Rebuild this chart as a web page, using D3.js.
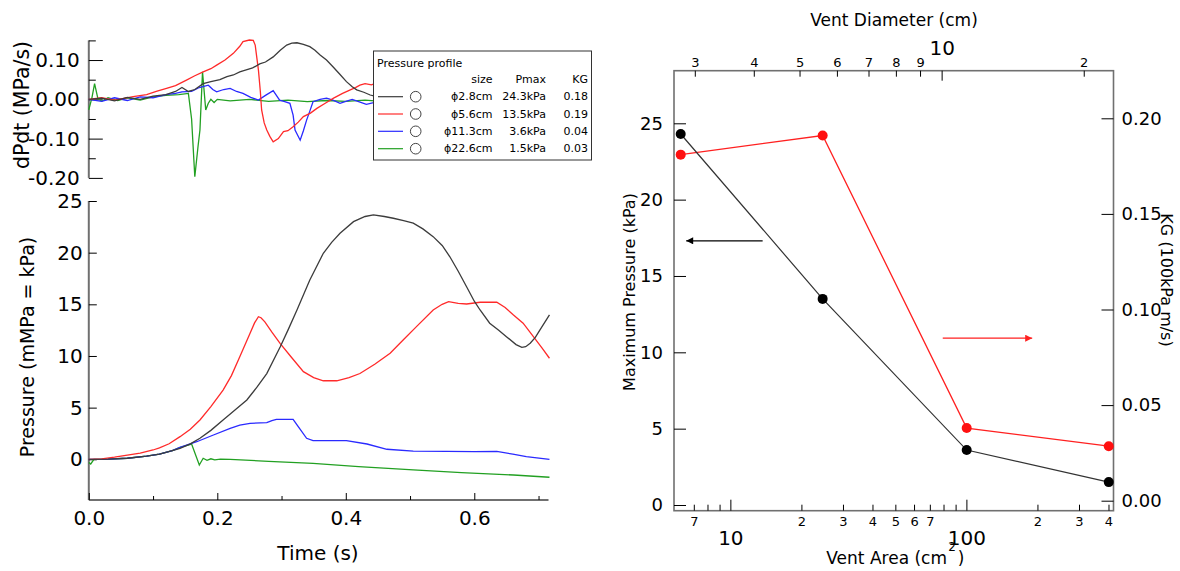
<!DOCTYPE html>
<html><head><meta charset="utf-8">
<script src="https://cdn.jsdelivr.net/npm/d3@7"></script>
<style>
body{margin:0;background:#fff;}
svg{display:block;font-family:"DejaVu Sans",sans-serif;}
</style></head><body>
<svg id="c" width="1180" height="571"></svg>
<script>
// ---------------- DATA ----------------
const timeTicks = [0, 0.2, 0.4, 0.6];
const timeMinorTicks = [0.1, 0.3, 0.5, 0.7];
const pressureTicks = [0, 5, 10, 15, 20, 25];
const dpdtTicks = [0.10, 0.00, -0.10, -0.20];
const dpdtMinorTicks = [0.15, 0.05, -0.05, -0.15];

const seriesSize = ["ϕ2.8cm", "ϕ5.6cm", "ϕ11.3cm", "ϕ22.6cm"];
const seriesPmaxText = ["24.3kPa", "13.5kPa", "3.6kPa", "1.5kPa"];
const seriesKGText = ["0.18", "0.19", "0.04", "0.03"];
const seriesColors = ["#3c3c3c", "#ff2a2a", "#2a2aff", "#22a022"];

// pressure (kPa) vs time (s)
const pressure28 = [[0,0],[0.03,0.02],[0.06,0.1],[0.09,0.3],[0.11,0.5],[0.13,0.85],[0.142,1.06],[0.158,1.5],[0.173,2.03],[0.19,2.8],[0.209,3.8],[0.228,4.8],[0.246,5.74],[0.262,7.0],[0.277,8.3],[0.298,10.9],[0.31,12.5],[0.324,14.45],[0.344,17.36],[0.365,19.94],[0.378,21.0],[0.391,21.88],[0.412,23.0],[0.43,23.5],[0.443,23.65],[0.46,23.5],[0.474,23.33],[0.49,23.1],[0.505,22.85],[0.52,22.3],[0.536,21.55],[0.55,20.7],[0.562,19.6],[0.575,18.2],[0.588,16.7],[0.6,15.3],[0.609,14.45],[0.624,13.17],[0.638,12.5],[0.65,11.87],[0.665,11.1],[0.674,10.84],[0.68,10.9],[0.687,11.23],[0.695,11.8],[0.702,12.5],[0.717,13.97]];
const pressure56 = [[0,0],[0.02,0.05],[0.04,0.2],[0.06,0.4],[0.08,0.6],[0.1,0.9],[0.11,1.1],[0.125,1.5],[0.142,2.19],[0.158,2.9],[0.173,3.8],[0.19,5.1],[0.209,6.7],[0.222,8.1],[0.235,9.93],[0.251,12.2],[0.258,13.2],[0.264,13.8],[0.268,13.7],[0.274,13.3],[0.285,12.3],[0.298,11.2],[0.315,9.9],[0.334,8.48],[0.35,7.9],[0.365,7.6],[0.386,7.6],[0.405,7.9],[0.422,8.3],[0.445,9.2],[0.469,10.26],[0.49,11.6],[0.51,12.84],[0.536,14.45],[0.55,15.0],[0.56,15.26],[0.575,15.1],[0.588,15.03],[0.609,15.2],[0.635,15.2],[0.648,14.7],[0.661,13.97],[0.676,13.17],[0.692,11.87],[0.705,10.8],[0.717,9.78]];
const pressure113 = [[0,0],[0.03,0.02],[0.06,0.1],[0.09,0.3],[0.11,0.5],[0.13,0.85],[0.142,1.16],[0.168,1.7],[0.194,2.35],[0.22,3.0],[0.235,3.3],[0.251,3.48],[0.277,3.55],[0.285,3.75],[0.292,3.87],[0.318,3.87],[0.326,3.16],[0.339,2.03],[0.349,1.8],[0.401,1.8],[0.433,1.48],[0.464,0.97],[0.505,0.80],[0.557,0.77],[0.6,0.75],[0.635,0.77],[0.66,0.5],[0.681,0.25],[0.717,0.0]];
const pressure226 = [[0,-0.3],[0.003,-0.45],[0.008,0],[0.03,0.02],[0.06,0.1],[0.09,0.3],[0.11,0.5],[0.13,0.85],[0.142,1.16],[0.16,1.48],[0.172,-0.55],[0.178,0.1],[0.184,-0.1],[0.19,0.05],[0.196,-0.05],[0.205,0.02],[0.22,0.0],[0.28,-0.2],[0.349,-0.39],[0.42,-0.7],[0.505,-1.03],[0.58,-1.3],[0.661,-1.52],[0.717,-1.74]];

// dP/dt (MPa/s) vs time (s)
const dpdt28 = [[0,0],[0.02,0.003],[0.04,-0.004],[0.06,0.005],[0.08,0.0],[0.1,0.008],[0.12,0.012],[0.135,0.02],[0.145,0.03],[0.155,0.02],[0.165,0.025],[0.178,0.04],[0.19,0.045],[0.204,0.05],[0.215,0.058],[0.225,0.062],[0.235,0.07],[0.245,0.075],[0.255,0.08],[0.266,0.09],[0.275,0.095],[0.287,0.108],[0.298,0.125],[0.308,0.138],[0.316,0.143],[0.324,0.144],[0.334,0.14],[0.344,0.134],[0.352,0.125],[0.36,0.113],[0.37,0.1],[0.38,0.083],[0.39,0.065],[0.401,0.045],[0.41,0.032],[0.417,0.024],[0.428,0.018],[0.438,0.011],[0.445,0.008]];
const dpdt56 = [[0,0],[0.02,0.004],[0.04,-0.002],[0.069,0.007],[0.09,0.012],[0.105,0.02],[0.121,0.028],[0.135,0.035],[0.152,0.049],[0.165,0.06],[0.178,0.07],[0.19,0.078],[0.199,0.087],[0.212,0.1],[0.225,0.117],[0.235,0.135],[0.24,0.147],[0.25,0.151],[0.256,0.15],[0.259,0.138],[0.262,0.1],[0.264,0.075],[0.267,0.02],[0.269,-0.027],[0.273,-0.06],[0.277,-0.078],[0.282,-0.095],[0.287,-0.108],[0.295,-0.1],[0.303,-0.082],[0.31,-0.08],[0.318,-0.07],[0.326,-0.058],[0.334,-0.044],[0.345,-0.035],[0.355,-0.023],[0.368,-0.01],[0.381,0.003],[0.395,0.015],[0.407,0.024],[0.415,0.03],[0.422,0.036],[0.43,0.04],[0.44,0.037],[0.445,0.04]];
const dpdt113 = [[0,0],[0.02,-0.005],[0.04,0.004],[0.06,-0.003],[0.08,0.006],[0.1,0.004],[0.12,0.012],[0.135,0.015],[0.145,0.019],[0.16,0.02],[0.172,0.03],[0.186,0.036],[0.193,0.025],[0.199,0.019],[0.21,0.025],[0.22,0.028],[0.23,0.02],[0.24,0.015],[0.252,0.005],[0.264,-0.002],[0.275,0.01],[0.287,0.022],[0.297,-0.002],[0.305,-0.006],[0.313,-0.01],[0.318,-0.04],[0.321,-0.078],[0.329,-0.104],[0.334,-0.08],[0.339,-0.053],[0.344,-0.03],[0.349,-0.006],[0.36,0.0],[0.37,0.003],[0.38,-0.002],[0.391,-0.01],[0.4,-0.005],[0.41,0.0],[0.42,-0.006],[0.432,-0.013],[0.445,-0.008]];
const dpdt226 = [[0,-0.027],[0.005,0.005],[0.009,0.04],[0.014,0.003],[0.02,-0.005],[0.03,0.004],[0.045,-0.003],[0.06,0.004],[0.08,-0.002],[0.1,0.006],[0.12,0.01],[0.14,0.012],[0.155,0.015],[0.16,-0.05],[0.165,-0.197],[0.17,-0.12],[0.173,-0.078],[0.177,0.07],[0.182,-0.027],[0.186,-0.01],[0.19,0.0],[0.195,-0.008],[0.2,0.0],[0.22,-0.004],[0.25,0.0],[0.28,-0.005],[0.31,-0.002],[0.34,-0.006],[0.37,-0.003],[0.4,-0.005],[0.43,-0.002],[0.445,-0.004]];

// right chart
const ventArea = [6.16, 24.6, 100.3, 401];       // cm^2
const maxPressure = [24.3, 13.5, 3.6, 1.5];       // kPa
const kgValues = [0.181, 0.191, 0.038, 0.0285];   // 100kPa m/s
const areaMajorTicks = [10, 100];
const areaMinorTicks = [7, 8, 9, 20, 30, 40, 50, 60, 70, 80, 90, 200, 300, 400];
const areaMinorLabels = [7, 20, 30, 40, 50, 60, 70, 200, 300, 400];
const diamMajorTicks = [10];
const diamMinorTicks = [3, 4, 5, 6, 7, 8, 9, 20];
const maxPressureTicks = [0, 5, 10, 15, 20, 25];
const kgTicks = [0.00, 0.05, 0.10, 0.15, 0.20];
const arrowPmax = {y: 17.3, from: 13.7, to: 6.5};
const arrowKG = {y: 0.085, from: 79.4, to: 190};

// ---------------- DRAW ----------------
const svg = d3.select("#c");
const FONT = '"DejaVu Sans", sans-serif';
const AXIS_GRAY = "#707070";
const defs = svg.append("defs");
defs.append("marker").attr("id","ahK").attr("viewBox","0 0 10 10").attr("refX",10).attr("refY",5)
  .attr("markerWidth",10).attr("markerHeight",7).attr("markerUnits","userSpaceOnUse").attr("orient","auto")
  .append("path").attr("d","M0,0L10,5L0,10Z").attr("fill","#000");
defs.append("marker").attr("id","ahR").attr("viewBox","0 0 10 10").attr("refX",10).attr("refY",5)
  .attr("markerWidth",10).attr("markerHeight",7).attr("markerUnits","userSpaceOnUse").attr("orient","auto")
  .append("path").attr("d","M0,0L10,5L0,10Z").attr("fill","#ff2020");

function styleAxis(g, size){
  g.attr("font-family", FONT);
  g.select(".domain").remove();
  g.selectAll(".tick line").attr("stroke","#000").attr("stroke-width",1);
  g.selectAll(".tick text").attr("font-size", size).attr("fill","#000");
}

// ---- left charts ----
const xT = d3.scaleLinear().domain([0, 0.7155]).range([88.8, 548.5]);
const yP = d3.scaleLinear().domain([-3.94, 25]).range([500, 201]);
const yD = d3.scaleLinear().domain([-0.20, 0.15]).range([177.9, 40.4]);

// frames
svg.append("line").attr("x1",xT.range()[0]).attr("x2",xT.range()[1]).attr("y1",yP.range()[0]).attr("y2",yP.range()[0])
  .attr("stroke",AXIS_GRAY).attr("stroke-width",2);
svg.append("line").attr("x1",xT.range()[0]).attr("x2",xT.range()[0]).attr("y1",yP.range()[0]).attr("y2",yP.range()[1])
  .attr("stroke",AXIS_GRAY).attr("stroke-width",2);
svg.append("line").attr("x1",xT.range()[0]).attr("x2",xT.range()[0]).attr("y1",yD.range()[0]).attr("y2",yD.range()[1])
  .attr("stroke",AXIS_GRAY).attr("stroke-width",2);

// time axis
svg.append("g").attr("transform",`translate(0,${yP.range()[0]})`)
  .call(d3.axisBottom(xT).tickValues(timeMinorTicks).tickSizeInner(-4).tickSizeOuter(0).tickFormat(""))
  .call(g=>styleAxis(g,20));
svg.append("g").attr("transform",`translate(0,${yP.range()[0]})`)
  .call(d3.axisBottom(xT).tickValues(timeTicks).tickSizeInner(-7).tickSizeOuter(0).tickPadding(11).tickFormat(d3.format(".1f")))
  .call(g=>styleAxis(g,20));
// pressure axis
svg.append("g").attr("transform",`translate(${xT.range()[0]},0)`)
  .call(d3.axisLeft(yP).tickValues(pressureTicks).tickSizeInner(-8).tickSizeOuter(0).tickPadding(6).tickFormat(d3.format("d")))
  .call(g=>styleAxis(g,20));
// dpdt axis
svg.append("g").attr("transform",`translate(${xT.range()[0]},0)`)
  .call(d3.axisLeft(yD).tickValues(dpdtMinorTicks).tickSizeInner(-7).tickSizeOuter(0).tickFormat(""))
  .call(g=>styleAxis(g,20));
svg.append("g").attr("transform",`translate(${xT.range()[0]},0)`)
  .call(d3.axisLeft(yD).tickValues(dpdtTicks).tickSizeInner(-14).tickSizeOuter(0).tickPadding(9).tickFormat(d=>d3.format(".2f")(d).replace("−","-")))
  .call(g=>styleAxis(g,20));

// curves
const lineP = d3.line().x(d=>xT(d[0])).y(d=>yP(d[1]));
const lineD = d3.line().x(d=>xT(d[0])).y(d=>yD(d[1]));
const pSeries = [pressure28, pressure56, pressure113, pressure226];
const dSeries = [dpdt28, dpdt56, dpdt113, dpdt226];
const drawOrder = [3,2,1,0];
drawOrder.forEach(i=>{
  svg.append("path").attr("d",lineP(pSeries[i])).attr("fill","none").attr("stroke",seriesColors[i]).attr("stroke-width",1.3);
});
drawOrder.forEach(i=>{
  svg.append("path").attr("d",lineD(dSeries[i])).attr("fill","none").attr("stroke",seriesColors[i]).attr("stroke-width",1.3);
});

// axis titles
svg.append("text").attr("x",318).attr("y",553).attr("text-anchor","middle").attr("dominant-baseline","central")
  .attr("font-size",20).attr("font-family",FONT).text("Time (s)");
svg.append("text").attr("transform","translate(27,347) rotate(-90)").attr("text-anchor","middle").attr("dominant-baseline","central")
  .attr("font-size",19).attr("font-family",FONT).text("Pressure (mMPa = kPa)");
svg.append("text").attr("transform","translate(22,105) rotate(-90)").attr("text-anchor","middle").attr("dominant-baseline","central")
  .attr("font-size",20.5).attr("font-family",FONT).text("dPdt (MPa/s)");

// legend
const lg = svg.append("g").attr("font-family",FONT).attr("font-size",11);
lg.append("rect").attr("x",373.5).attr("y",51).attr("width",218).attr("height",109).attr("fill","#fff").attr("stroke","#333").attr("stroke-width",1);
lg.append("text").attr("x",377).attr("y",63).attr("dominant-baseline","central").text("Pressure profile");
lg.append("text").attr("x",492.5).attr("y",79.5).attr("text-anchor","end").attr("dominant-baseline","central").text("size");
lg.append("text").attr("x",546).attr("y",79.5).attr("text-anchor","end").attr("dominant-baseline","central").text("Pmax");
lg.append("text").attr("x",588).attr("y",79.5).attr("text-anchor","end").attr("dominant-baseline","central").text("KG");
const rowY = [96.7, 114, 131.3, 148.7];
seriesSize.forEach((s,i)=>{
  const y = rowY[i];
  lg.append("line").attr("x1",378).attr("x2",403).attr("y1",y).attr("y2",y).attr("stroke",seriesColors[i]).attr("stroke-width",1.2);
  lg.append("circle").attr("cx",415.7).attr("cy",y).attr("r",5.3).attr("fill","#fff").attr("stroke","#444").attr("stroke-width",1);
  lg.append("text").attr("x",492.5).attr("y",y).attr("text-anchor","end").attr("dominant-baseline","central").text(s);
  lg.append("text").attr("x",546).attr("y",y).attr("text-anchor","end").attr("dominant-baseline","central").text(seriesPmaxText[i]);
  lg.append("text").attr("x",588).attr("y",y).attr("text-anchor","end").attr("dominant-baseline","central").text(seriesKGText[i]);
});

// ---- right chart ----
const xA = d3.scaleLog().domain([5.77, 420]).range([674, 1113.5]);
const diam = a => Math.sqrt(4*a/Math.PI);
const xD = d3.scaleLog().domain([diam(5.77), diam(420)]).range([674, 1113.5]);
const yL = d3.scaleLinear().domain([-0.373, 28.445]).range([510.7, 70.7]);
const yR = d3.scaleLinear().domain([-0.00523, 0.2249]).range([510.7, 70.7]);

svg.append("rect").attr("x",674).attr("y",70.7).attr("width",1113.5-674).attr("height",510.7-70.7)
  .attr("fill","none").attr("stroke",AXIS_GRAY).attr("stroke-width",1.6);

// bottom axis (area)
svg.append("g").attr("transform",`translate(0,${yL.range()[0]})`)
  .call(d3.axisBottom(xA).tickValues(areaMinorTicks).tickSizeInner(-6).tickSizeOuter(0).tickPadding(6)
    .tickFormat(d=> areaMinorLabels.includes(d) ? String(d).charAt(0) : ""))
  .call(g=>styleAxis(g,13));
svg.append("g").attr("transform",`translate(0,${yL.range()[0]})`)
  .call(d3.axisBottom(xA).tickValues(areaMajorTicks).tickSizeInner(-11).tickSizeOuter(0).tickPadding(20).tickFormat(d3.format("d")))
  .call(g=>styleAxis(g,20));
// top axis (diameter)
svg.append("g").attr("transform",`translate(0,${yL.range()[1]})`)
  .call(d3.axisTop(xD).tickValues(diamMinorTicks).tickSizeInner(-6).tickSizeOuter(0).tickPadding(4)
    .tickFormat(d=>String(d).charAt(0)))
  .call(g=>styleAxis(g,13));
svg.append("g").attr("transform",`translate(0,${yL.range()[1]})`)
  .call(d3.axisTop(xD).tickValues(diamMajorTicks).tickSizeInner(-10).tickSizeOuter(0).tickPadding(16).tickFormat(d3.format("d")))
  .call(g=>styleAxis(g,20));
// left axis
svg.append("g").attr("transform",`translate(674,0)`)
  .call(d3.axisLeft(yL).tickValues(maxPressureTicks).tickSizeInner(-12).tickSizeOuter(0).tickPadding(11).tickFormat(d3.format("d")))
  .call(g=>styleAxis(g,18));
// right axis
svg.append("g").attr("transform",`translate(1113.5,0)`)
  .call(d3.axisRight(yR).tickValues(kgTicks).tickSizeInner(-12).tickSizeOuter(0).tickPadding(8).tickFormat(d3.format(".2f")))
  .call(g=>styleAxis(g,18));

// series
const idx = d3.range(ventArea.length);
svg.append("path").attr("d", d3.line().x(i=>xA(ventArea[i])).y(i=>yR(kgValues[i]))(idx))
  .attr("fill","none").attr("stroke","#ff2020").attr("stroke-width",1.3);
svg.append("path").attr("d", d3.line().x(i=>xA(ventArea[i])).y(i=>yL(maxPressure[i]))(idx))
  .attr("fill","none").attr("stroke","#333").attr("stroke-width",1.2);
svg.selectAll("circle.kg").data(idx).enter().append("circle").attr("class","kg")
  .attr("cx",i=>xA(ventArea[i])).attr("cy",i=>yR(kgValues[i])).attr("r",5).attr("fill","#ff1010");
svg.selectAll("circle.pm").data(idx).enter().append("circle").attr("class","pm")
  .attr("cx",i=>xA(ventArea[i])).attr("cy",i=>yL(maxPressure[i])).attr("r",5).attr("fill","#000");

// arrows
svg.append("line").attr("x1",xA(arrowPmax.from)).attr("x2",xA(arrowPmax.to)).attr("y1",yL(arrowPmax.y)).attr("y2",yL(arrowPmax.y))
  .attr("stroke","#000").attr("stroke-width",1.2).attr("marker-end","url(#ahK)");
svg.append("line").attr("x1",xA(arrowKG.from)).attr("x2",xA(arrowKG.to)).attr("y1",yR(arrowKG.y)).attr("y2",yR(arrowKG.y))
  .attr("stroke","#ff2020").attr("stroke-width",1.2).attr("marker-end","url(#ahR)");

// titles
svg.append("text").attr("x",894).attr("y",20).attr("text-anchor","middle").attr("dominant-baseline","central")
  .attr("font-size",17).attr("font-family",FONT).text("Vent Diameter (cm)");
svg.append("text").attr("x",947).attr("y",558).attr("text-anchor","end").attr("dominant-baseline","central")
  .attr("font-size",17).attr("font-family",FONT).text("Vent Area (cm");
svg.append("text").attr("x",952).attr("y",547).attr("text-anchor","middle").attr("dominant-baseline","central")
  .attr("font-size",12).attr("font-family",FONT).text("2");
svg.append("text").attr("x",961).attr("y",558).attr("text-anchor","middle").attr("dominant-baseline","central")
  .attr("font-size",17).attr("font-family",FONT).text(")");
svg.append("text").attr("transform","translate(629,292) rotate(-90)").attr("text-anchor","middle").attr("dominant-baseline","central")
  .attr("font-size",16).attr("font-family",FONT).text("Maximum Pressure (kPa)");
svg.append("text").attr("transform","translate(1166,280) rotate(90)").attr("text-anchor","middle").attr("dominant-baseline","central")
  .attr("font-size",16).attr("font-family",FONT).text("KG (100kPa m/s)");
</script>
</body></html>
